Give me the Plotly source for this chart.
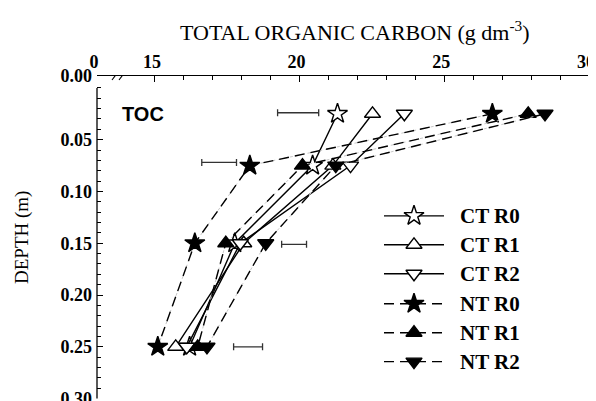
import plotly.graph_objects as go

# ---------------- data ----------------
depth_m = [0.025, 0.075, 0.15, 0.25]
ct_r0 = [21.31, 20.45, 17.76, 16.20]
ct_r1 = [22.52, 21.15, 18.07, 15.72]
ct_r2 = [23.62, 21.76, 17.95, 16.10]
nt_r0 = [26.66, 18.28, 16.38, 15.10]
nt_r1 = [27.90, 20.10, 17.45, 16.48]
nt_r2 = [28.48, 21.25, 18.83, 16.80]

lsd_center = [19.95, 17.22, 19.81, 18.22]
lsd_half = [0.71, 0.60, 0.43, 0.50]
lsd_depth = [0.024, 0.072, 0.151, 0.250]

x_tickvals = [13, 15, 20, 25, 30]
x_ticktext = ["0", "15", "20", "25", "30"]
x_minor = [16, 17, 18, 19, 21, 22, 23, 24, 26, 27, 28, 29]
y_tickvals = [-0.0115, 0.05, 0.10, 0.15, 0.20, 0.25, 0.30]
y_ticktext = ["0.00", "0.05", "0.10", "0.15", "0.20", "0.25", "0.30"]
y_minor = [round(0.01 * i, 2) for i in range(0, 31) if i % 5 != 0 or i == 0]

series = [
    ("CT R0", ct_r0, "star", "white", "solid"),
    ("CT R1", ct_r1, "triangle-up", "white", "solid"),
    ("CT R2", ct_r2, "triangle-down", "white", "solid"),
    ("NT R0", nt_r0, "star", "black", "dash"),
    ("NT R1", nt_r1, "triangle-up", "black", "dash"),
    ("NT R2", nt_r2, "triangle-down", "black", "dash"),
]

SERIF = "Liberation Serif"
SANS = "Liberation Sans"
DASH = "10px,6px"

def msize(sym):
    return 15 if sym == "star" else 14

fig = go.Figure()

# LSD / error bars
fig.add_trace(go.Scatter(
    x=lsd_center, y=lsd_depth, mode="markers",
    marker=dict(size=1, color="rgba(0,0,0,0)"),
    error_x=dict(type="data", array=lsd_half, symmetric=True,
                 color="#333333", thickness=1.3, width=3.5),
    showlegend=False, hoverinfo="skip"))

for name, vals, sym, fill, style in series:
    if style == "dash":
        fig.add_trace(go.Scatter(
            x=vals, y=depth_m, mode="lines",
            line=dict(color="#c8c8c8", width=1, dash="dot"),
            showlegend=False, hoverinfo="skip"))
    fig.add_trace(go.Scatter(
        x=vals, y=depth_m, mode="lines+markers", name=name,
        line=dict(color="black", width=1.4,
                  dash=DASH if style == "dash" else "solid"),
        marker=dict(symbol=sym, size=msize(sym), color=fill,
                    line=dict(color="black", width=1.4)),
        showlegend=False))

# ---------------- custom legend (pixel overlay axes, window coords) ----------------
leg_y = [215, 244, 273, 303, 332, 361]
for (name, vals, sym, fill, style), yy in zip(series, leg_y):
    fig.add_trace(go.Scatter(
        x=[383, 443], y=[yy, yy], xaxis="x2", yaxis="y2", mode="lines",
        line=dict(color="black", width=1.4,
                  dash=DASH if style == "dash" else "solid"),
        showlegend=False, hoverinfo="skip"))
    fig.add_trace(go.Scatter(
        x=[413], y=[yy], xaxis="x2", yaxis="y2", mode="markers",
        marker=dict(symbol=sym, size=msize(sym), color=fill,
                    line=dict(color="black", width=1.4)),
        showlegend=False, hoverinfo="skip"))
    fig.add_annotation(x=457, y=yy, xref="x2", yref="y2", text=name,
                       showarrow=False, xanchor="left", yanchor="middle",
                       font=dict(family=SERIF, size=21, color="black",
                                 weight="bold"))

axis_font = dict(family=SERIF, size=18, color="black", weight="bold")

fig.update_layout(
    width=596, height=401,
    margin=dict(l=89, r=15, t=68, b=10, autoexpand=False),
    paper_bgcolor="white", plot_bgcolor="white",
    showlegend=False,
    xaxis=dict(side="top", range=[13, 30], showgrid=False, zeroline=False,
               automargin=False,
               showline=True, linecolor="black", linewidth=1.3,
               tickmode="array", tickvals=x_tickvals, ticktext=x_ticktext,
               ticks="inside", ticklen=6, tickwidth=1.2, tickcolor="black",
               tickfont=axis_font, ticklabelshift=-3,
               minor=dict(tickmode="array", tickvals=x_minor, ticks="inside",
                          ticklen=3.5, tickwidth=1.1, tickcolor="black")),
    yaxis=dict(range=[0.3004, -0.0115], showgrid=False, zeroline=False,
               automargin=False, showline=False,
               tickmode="array", tickvals=y_tickvals, ticktext=y_ticktext,
               ticks="inside", ticklen=6, tickwidth=1.2, tickcolor="black",
               tickfont=axis_font, ticklabelstandoff=4,
               minor=dict(tickmode="array", tickvals=y_minor, ticks="inside",
                          ticklen=3.5, tickwidth=1.1, tickcolor="black")),
    xaxis2=dict(overlaying="x", anchor="y2", range=[96, 588], visible=False,
                fixedrange=True, automargin=False),
    yaxis2=dict(overlaying="y", anchor="x2", range=[398.4, 75], visible=False,
                fixedrange=True, automargin=False),
)

# y axis line (starts at depth 0.00, leaving a small gap below the top axis)
fig.add_shape(type="line", xref="paper", yref="y", x0=0, x1=0, y0=0.0, y1=0.30,
              line=dict(color="black", width=1.3))
# axis break marks on top axis
fig.add_shape(type="line", xref="x2", yref="y2", x0=114.5, x1=120.5, y0=75, y1=75,
              line=dict(color="white", width=3))
for bx in (114, 121):
    fig.add_shape(type="line", xref="x2", yref="y2", x0=bx - 3, x1=bx + 3,
                  y0=79, y1=71, line=dict(color="black", width=1.1))

# titles and labels
fig.add_annotation(x=354, y=(398 - 30) / 323, xref="x2", yref="paper",
                   text="TOTAL ORGANIC CARBON (g dm<sup>-3</sup>)",
                   showarrow=False, xanchor="center", yanchor="middle",
                   font=dict(family=SERIF, size=22, color="black"))
fig.add_annotation(x=(21 - 96) / 492, y=(398 - 237) / 323, xref="paper", yref="paper",
                   text="DEPTH (m)", textangle=-90, showarrow=False,
                   xanchor="center", yanchor="middle",
                   font=dict(family=SERIF, size=19, color="black"))
fig.add_annotation(x=142, y=113, xref="x2", yref="y2", text="TOC",
                   showarrow=False, xanchor="center", yanchor="middle",
                   font=dict(family=SANS, size=20, color="black", weight="bold"))

fig.write_html("out.html")
